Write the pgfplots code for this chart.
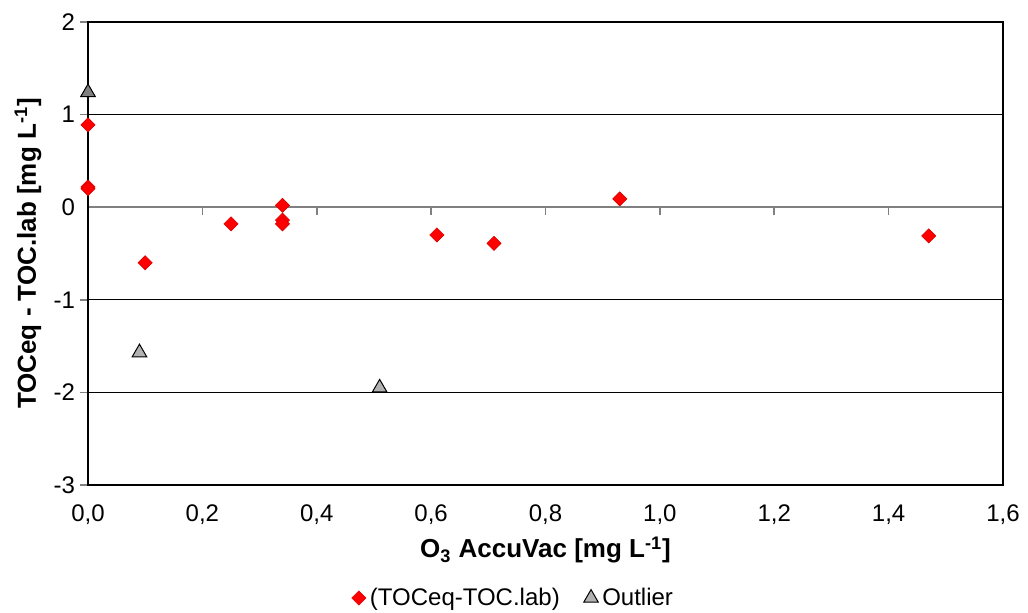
\documentclass[border=0pt]{standalone}
\usepackage{pgfplots}
\pgfplotsset{compat=1.18}
\usepackage{fontspec}
\setmainfont{Liberation Sans}
\usetikzlibrary{calc}
\begin{document}
\begin{tikzpicture}
\pgfplotsset{common/.style={scale only axis, width=457.5pt, height=231.5pt,
  xmin=0, xmax=1.6, ymin=-3, ymax=2}}
% gray axis lines through the origin
\begin{axis}[common, axis lines=middle, axis line style={-, draw=gray, line width=0.9pt},
  xtick={0,0.2,0.4,0.6,0.8,1.0,1.2,1.4,1.6}, ytick={-3,-2,-1,0,1,2},
  xticklabels={}, yticklabels={}, tick style={draw=gray, line width=0.8pt},
  tick align=outside, major tick length=4pt]
\end{axis}
\begin{axis}[common,
  axis line style={black, line width=0.6pt},
  xtick={0,0.2,0.4,0.6,0.8,1.0,1.2,1.4,1.6}, ytick={-3,-2,-1,0,1,2},
  major tick length=0pt,
  extra y ticks={-2,-1,1}, extra y tick labels={},
  extra y tick style={grid=major, major grid style={black, line width=0.6pt}},
  tick label style={font=\fontsize{12}{14}\selectfont},
  /pgf/number format/assume math mode=true,
  xticklabel style={yshift=-6.5pt, /pgf/number format/.cd, fixed, fixed zerofill, precision=1, use comma},
  yticklabel style={xshift=-3pt, /pgf/number format/.cd, fixed, precision=0},
  xlabel={O\textsubscript{3} AccuVac [mg L\textsuperscript{-1}]},
  ylabel={TOCeq - TOC.lab [mg L\textsuperscript{-1}]},
  label style={font=\fontsize{13}{15}\selectfont\bfseries},
  xlabel style={at={($(rel axis cs:0.5,0)+(0,-32.5pt)$)}, anchor=center},
  ylabel style={at={($(rel axis cs:0,0.5)+(-30pt,0)$)}, anchor=center, rotate=0},
  legend columns=2,
  legend style={at={(0.466,0)}, anchor=center, yshift=-56.5pt, draw=none,
    font=\fontsize{12}{14}\selectfont, /tikz/every even column/.append style={column sep=10pt}},
  clip=false]
\coordinate (ll) at (rel axis cs:0,0);
\coordinate (ur) at (rel axis cs:1,1);
\addplot[only marks, mark=square*, mark size=2.5pt, mark options={rotate=45, fill=red, draw=red!85!black, line width=0.3pt}]
  coordinates {(0,0.89) (0,0.22) (0,0.20) (0.10,-0.60) (0.25,-0.18) (0.34,0.02) (0.34,-0.14) (0.34,-0.18)
  (0.61,-0.30) (0.71,-0.39) (0.93,0.09) (1.47,-0.31)};
\addlegendentry{(TOCeq-TOC.lab)}
\addplot[only marks, mark=triangle*, mark size=4.2pt, mark options={fill=gray!60, draw=black, line width=0.5pt}]
  coordinates {(0.09,-1.57) (0.51,-1.95)};
\addlegendentry{Outlier}
\addplot[only marks, mark=triangle*, mark size=4.2pt, mark options={fill=gray, draw=black, line width=0.5pt}, forget plot]
  coordinates {(0,1.24)};
\end{axis}
\pgfresetboundingbox
\path ($(ll)+(-44pt,-63.5pt)$) rectangle ($(ur)+(12.5pt,11pt)$);
\end{tikzpicture}
\end{document}
